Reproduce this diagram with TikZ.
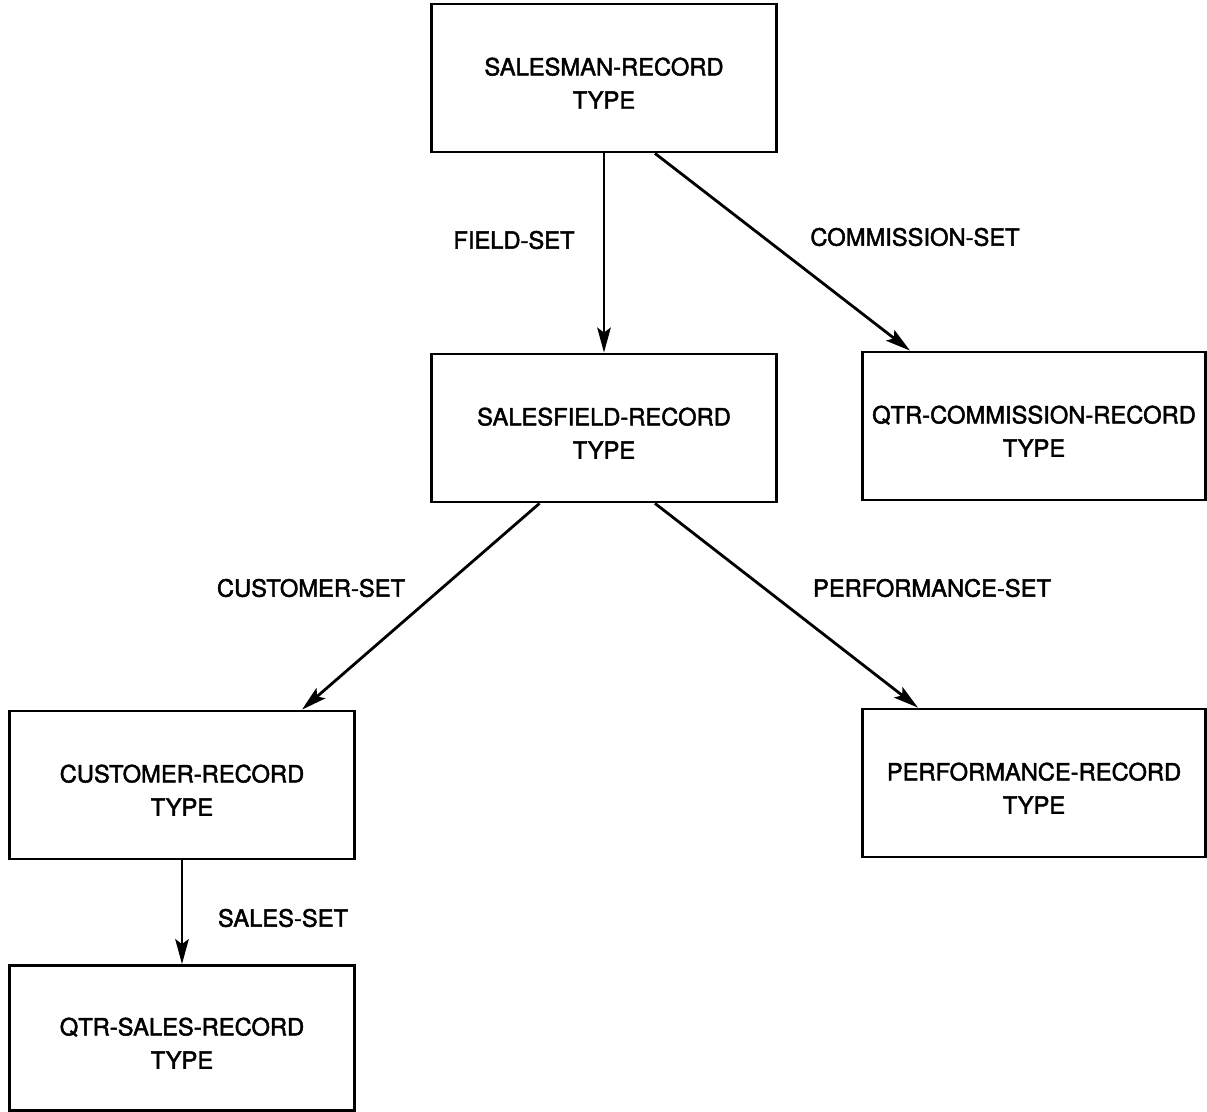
\documentclass[tikz,border=0pt]{standalone}
\usepackage{fontspec}
\setmainfont{TeX Gyre Heros}
\newfontfamily\scanfont{TeX Gyre Heros}[FakeBold=2]
\usetikzlibrary{arrows.meta, positioning}

\begin{document}
\begin{tikzpicture}[x=0.02cm, y=-0.02cm, line width=1.6pt,
    record/.style={draw, rectangle, minimum width=6.9cm, minimum height=2.96cm,
                   align=center, text height=35pt, font=\scanfont\fontsize{13.5}{19}\selectfont},
    setname/.style={font=\scanfont\fontsize{13.5}{19}\selectfont},
    >={Stealth[length=0.5cm, width=0.27cm, inset=0.1cm]}]

    \useasboundingbox (0,0) rectangle (1207,1112);

    \node [record] (salesman)    at (604 , 78)    {SALESMAN-RECORD\\TYPE};
    \node [record] (salesfield)  at (604 , 428)   {SALESFIELD-RECORD\\TYPE};
    \node [record, minimum width=6.86cm] (qtrcomm) at (1034 , 426) {QTR-COMMISSION-RECORD\\TYPE};
    \node [record] (customer)    at (182 , 785)   {CUSTOMER-RECORD\\TYPE};
    \node [record, minimum width=6.86cm] (performance) at (1034 , 783) {PERFORMANCE-RECORD\\TYPE};
    \node [record, minimum height=2.9cm] (qtrsales) at (182 , 1038) {QTR-SALES-RECORD\\TYPE};

    \node [setname] (fieldset)       at (514 , 240) {FIELD-SET};
    \node [setname] (commissionset)  at (915 , 237) {COMMISSION-SET};
    \node [setname] (customerset)    at (311 , 588) {CUSTOMER-SET};
    \node [setname] (performanceset) at (932 , 588) {PERFORMANCE-SET};
    \node [setname] (salesset)       at (283 , 918) {SALES-SET};

 \path[->]
      (salesman) edge (salesfield)
      ([xshift=1.02cm]salesman.south) edge ([xshift=-2.48cm]qtrcomm.north)
      ([xshift=-1.29cm]salesfield.south) edge ([xshift=2.4cm]customer.north)
      ([xshift=1.02cm]salesfield.south) edge ([xshift=-2.32cm]performance.north)
      (customer) edge (qtrsales);
\end{tikzpicture}
\end{document}
